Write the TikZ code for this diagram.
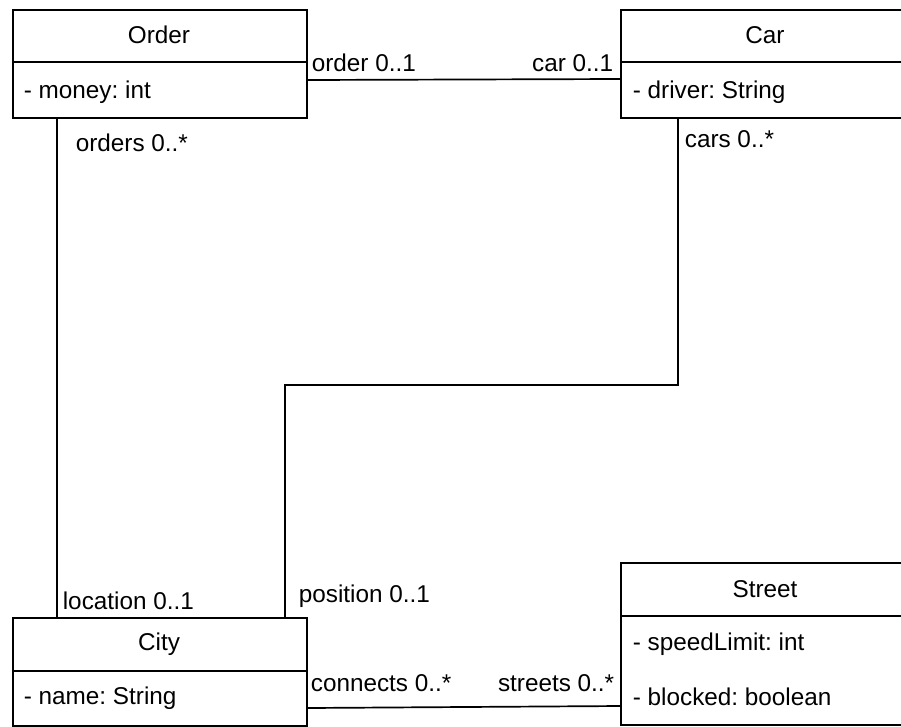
\documentclass[tikz,border=0pt]{standalone}
\usepackage{fontspec}
\setmainfont{Liberation Sans}
\usetikzlibrary{calc}
\frenchspacing
\begin{document}
\begin{tikzpicture}[x=1pt,y=-1pt,
  line width=1.7pt,
  classbox/.style={draw=black, fill=white, rectangle, inner sep=0pt, anchor=north west},
  txt/.style={inner sep=0pt, font=\fontsize{24.3}{28}\selectfont},
  ltxt/.style={txt, anchor=west},
  rtxt/.style={txt, anchor=east},
  conn/.style={draw=black, line width=1.7pt}]
\clip (0,0) rectangle (901,726);
\fill[white] (0,0) rectangle (901,726);
% class boxes
\node[classbox, minimum width=294pt, minimum height=108pt] (order) at (12,9) {};
\node[classbox, minimum width=290pt, minimum height=108pt] (car) at (620,9) {};
\node[classbox, minimum width=294pt, minimum height=108pt] (city) at (12,617) {};
\node[classbox, minimum width=290pt, minimum height=162pt] (street) at (620,562) {};
% dividers
\draw (order.north west) ++(0,53) coordinate (od1) -- (od1 -| order.east);
\draw (car.north west) ++(0,53) coordinate (cd1) -- (cd1 -| car.east);
\draw (city.north west) ++(0,54) coordinate (ctd1) -- (ctd1 -| city.east);
\draw (street.north west) ++(0,54) coordinate (sd1) -- (sd1 -| street.east);
% titles and attributes
\node[txt] (ordert) at (159,35) {Order};
\node[ltxt] (ordera) at (23,92) {- money: int};
\node[txt] (cart) at (765,35) {Car};
\node[ltxt] (cara) at (632,92) {- driver: String};
\node[txt] (cityt) at (159,644) {City};
\node[ltxt] (citya) at (23,698) {- name: String};
\node[txt] (streett) at (765,589) {Street};
\node[ltxt] (streeta) at (632,644) {- speedLimit: int};
\node[ltxt] (streetb) at (632,697) {- blocked: boolean};
% connectors
\coordinate (oc1) at ($(order.north east)+(0,71)$);
\coordinate (oc2) at ($(car.north west)+(0,70)$);
\draw[conn] (oc1) -- (oc2);
\draw[conn] (57,0 |- order.south) -- (57,0 |- city.north);
\coordinate (cv1) at (678,0 |- car.south);
\coordinate (cv2) at (678,385);
\coordinate (cv3) at (285,385);
\draw[conn] (cv1) -- (cv2) -- (cv3) -- (285,0 |- city.north);
\coordinate (cs1) at ($(city.north east)+(0,91)$);
\coordinate (cs2) at ($(street.north west)+(0,144)$);
\draw[conn] (cs1) -- (cs2);
% role labels
\node[ltxt] (l1) at (311,63) {order 0..1};
\node[rtxt] (l2) at (614,63) {car 0..1};
\node[ltxt] (l3) at (75,143) {orders 0..*};
\node[ltxt] (l4) at (62,601) {location 0..1};
\node[ltxt] (l5) at (684,139) {cars 0..*};
\node[ltxt] (l6) at (298,596) {position 0..1};
\node[ltxt] (l7) at (310,683) {connects 0..*};
\node[rtxt] (l8) at (615,683) {streets 0..*};
\end{tikzpicture}
\end{document}
